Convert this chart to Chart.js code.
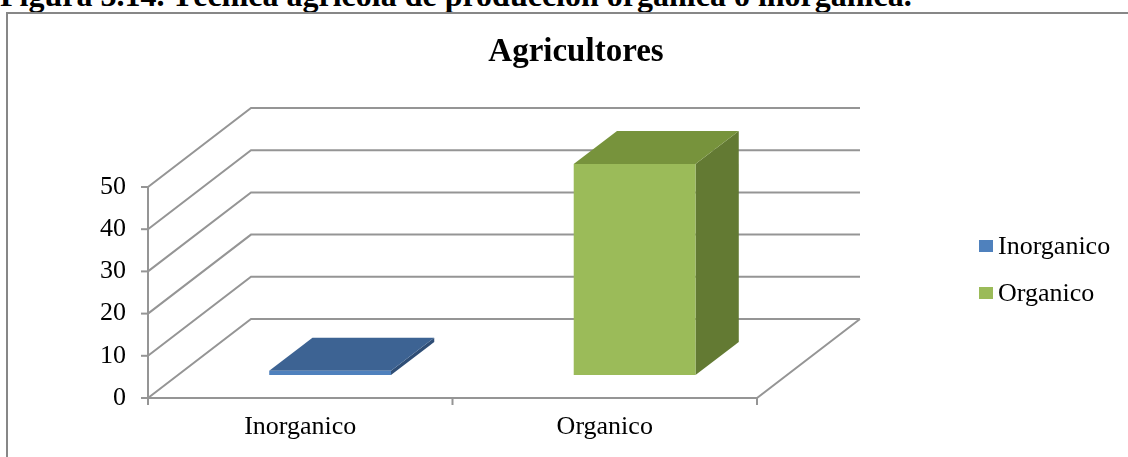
<!DOCTYPE html>
<html>
<head>
<meta charset="utf-8">
<script src="https://cdn.jsdelivr.net/npm/chart.js@4/dist/chart.umd.min.js"></script>
<style>
  html, body { margin: 0; padding: 0; width: 1128px; height: 457px; overflow: hidden; background: #fff; }
  #caption { position: absolute; left: 0; top: -21px; font: bold 32px "Liberation Serif", "Times New Roman", serif; line-height: 32px; color: #000; white-space: nowrap; }
  #box { position: absolute; left: 6px; top: 12px; width: 1200px; height: 500px; border-left: 2px solid #878787; border-top: 2px solid #878787; background: #fff; }
  #wrap { position: absolute; left: 0; top: 0; width: 1152px; height: 457px; }
</style>
</head>
<body>
<div id="caption">Figura 3.14. Técnica agrícola de producción orgánica o inorgánica.</div>
<div id="box"></div>
<div id="wrap"><canvas id="c" width="1152" height="457"></canvas></div>
<script>
const chartTitle = 'Agricultores';
const categories = ['Inorganico', 'Organico'];
const values = [1, 50];
const yTickValues = [0, 10, 20, 30, 40, 50];
const frontColors = ['#4F81BD', '#9BBB59'];
const topColors = ['#3D6393', '#77933C'];
const sideColors = ['#2F4E76', '#637A33'];

const DX = 103, DY = 79, F0 = 0.29, F1 = 0.71;
const GRID = '#959595';
const SERIF = '"Liberation Serif", "Times New Roman", serif';

function poly(ctx, pts, fill) {
  ctx.beginPath();
  ctx.moveTo(pts[0][0], pts[0][1]);
  for (let i = 1; i < pts.length; i++) ctx.lineTo(pts[i][0], pts[i][1]);
  ctx.closePath();
  ctx.fillStyle = fill;
  ctx.fill();
}

const frame3d = {
  id: 'frame3d',
  beforeDatasetsDraw(chart) {
    const ctx = chart.ctx, ys = chart.scales.y, xs = chart.scales.x, a = chart.chartArea;
    ctx.save();
    ctx.strokeStyle = GRID;
    ctx.lineWidth = 2;
    ctx.lineCap = 'butt';
    yTickValues.forEach(v => {
      const py = ys.getPixelForValue(v);
      ctx.beginPath();
      ctx.moveTo(a.left, py);
      ctx.lineTo(a.left + DX, py - DY);
      ctx.lineTo(a.right + DX, py - DY);
      ctx.stroke();
      ctx.beginPath();
      ctx.moveTo(a.left - 7, py);
      ctx.lineTo(a.left, py);
      ctx.stroke();
    });
    const p0 = ys.getPixelForValue(0);
    ctx.beginPath();
    ctx.moveTo(a.left, p0);
    ctx.lineTo(a.right, p0);
    ctx.lineTo(a.right + DX, p0 - DY);
    ctx.stroke();
    ctx.beginPath();
    ctx.moveTo(a.left, ys.getPixelForValue(ys.max));
    ctx.lineTo(a.left, p0);
    ctx.stroke();
    for (let i = 0; i <= categories.length; i++) {
      const px = xs.getPixelForValue(i - 0.5);
      ctx.beginPath();
      ctx.moveTo(px, p0);
      ctx.lineTo(px, p0 + 7);
      ctx.stroke();
    }
    ctx.restore();
  },
  beforeDatasetDraw() { return false; },
  afterDatasetsDraw(chart) {
    const ctx = chart.ctx;
    const meta = chart.getDatasetMeta(0);
    ctx.save();
    meta.data.forEach((bar, i) => {
      const p = bar.getProps(['x', 'y', 'base', 'width'], true);
      const l = p.x - p.width / 2 + F0 * DX, r = p.x + p.width / 2 + F0 * DX;
      const t = p.y - F0 * DY, b = p.base - F0 * DY;
      const ddx = (F1 - F0) * DX, ddy = (F1 - F0) * DY;
      poly(ctx, [[r, t], [r + ddx, t - ddy], [r + ddx, b - ddy], [r, b]], sideColors[i]);
      poly(ctx, [[l, t], [r, t], [r + ddx, t - ddy], [l + ddx, t - ddy]], topColors[i]);
      poly(ctx, [[l, t], [r, t], [r, b], [l, b]], frontColors[i]);
    });
    ctx.restore();
  },
  afterDraw(chart) {
    const ctx = chart.ctx;
    ctx.save();
    ctx.font = 'bold 33px ' + SERIF;
    ctx.textAlign = 'center';
    ctx.textBaseline = 'alphabetic';
    ctx.fillStyle = '#000';
    ctx.fillText(chartTitle, chart.width / 2, 61);
    ctx.font = '26px ' + SERIF;
    ctx.textBaseline = 'middle';
    ctx.textAlign = 'left';
    categories.forEach((c, i) => {
      const cy = 246 + i * 47;
      ctx.fillStyle = frontColors[i];
      ctx.fillRect(979, cy - 6, 14, 12);
      ctx.fillStyle = '#000';
      ctx.fillText(c, 998, cy + 1);
    });
    ctx.restore();
  }
};

new Chart(document.getElementById('c'), {
  type: 'bar',
  data: {
    labels: categories,
    datasets: [{ label: chartTitle, data: values, backgroundColor: frontColors,
      categoryPercentage: 1.0, barPercentage: 0.4 }]
  },
  options: {
    responsive: false,
    animation: false,
    events: [],
    layout: { padding: { left: 0, top: 187, right: 395, bottom: 0 } },
    plugins: {
      legend: { display: false },
      tooltip: { enabled: false },
      title: { display: false }
    },
    scales: {
      y: {
        min: 0, max: 50,
        afterBuildTicks(s) { s.ticks = yTickValues.map(v => ({ value: v })); },
        afterFit(s) { s.width = 148; },
        grid: { display: false, drawTicks: false },
        border: { display: false },
        ticks: { color: '#000', padding: 22, font: { family: SERIF, size: 26 } }
      },
      x: {
        afterFit(s) { s.height = 59; },
        grid: { display: false, drawTicks: false },
        border: { display: false },
        ticks: { color: '#000', padding: 14, font: { family: SERIF, size: 26 }, maxRotation: 0 }
      }
    }
  },
  plugins: [frame3d]
});
</script>
</body>
</html>
